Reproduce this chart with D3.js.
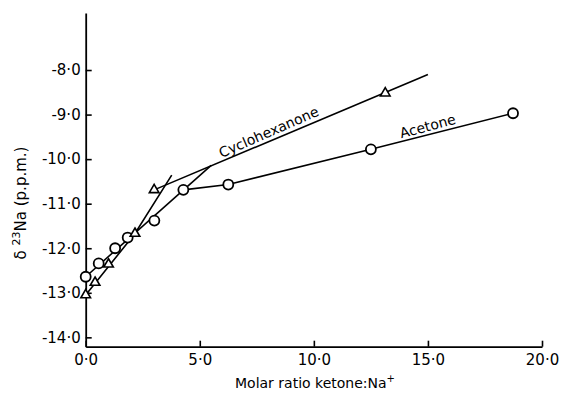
<!DOCTYPE html>
<html>
<head>
<meta charset="utf-8">
<script src="https://cdn.jsdelivr.net/npm/d3@7"></script>
<style>
  body { margin: 0; background: #fff; }
  svg { display: block; font-family: "DejaVu Sans", sans-serif; }
</style>
</head>
<body>
<script>
//------------ DATA ----------------------
// acetone (circles)
const acetoneX = [0, 0.57, 1.29, 1.84, 3.01, 4.28, 6.25, 12.5, 18.73];
const acetoneY = [-12.64, -12.34, -12.0, -11.76, -11.38, -10.69, -10.57, -9.78, -8.97];

// cyclohexanone (triangles)
const cycloX = [0, 0.41, 1.0, 2.16, 3.0, 13.13];
const cycloY = [-13.05, -12.77, -12.36, -11.67, -10.69, -8.52];

// hand drawn fit lines
const acetoneFitA = [[0, -12.64], [5.5, -10.14]];
const acetoneFitB = [[4.28, -10.69], [6.25, -10.57], [12.5, -9.78], [18.73, -8.97]];
const cycloFitA = [[0, -13.05], [2.16, -11.67], [3.77, -10.36]];
const cycloFitB = [[3.0, -10.69], [15.0, -8.1]];

const xTicks = [0, 5, 10, 15, 20];
const yTicks = [-14, -13, -12, -11, -10, -9, -8];
//----------------------------------------

const width = 565,
    height = 393;
const margin = {top: 13, right: 23, bottom: 46.3, left: 85.7};

var svg = d3.select("body").append("svg")
    .attr("width", width)
    .attr("height", height);

var x = d3.scaleLinear()
    .domain([0, 20])
    .range([margin.left, width - margin.right]);

var y = d3.scaleLinear()
    .domain([-14.21, -6.72])
    .range([height - margin.bottom, margin.top]);

// labels like "-8·0" with a plain hyphen and a raised dot
const fmt = d => d3.format(".1f")(d).replace("\u2212", "-").replace(".", "·");

//------------ AXES ----------------------
var gx = svg.append("g")
    .attr("transform", `translate(0,${height - margin.bottom})`)
    .call(d3.axisBottom(x).tickValues(xTicks).tickFormat(fmt)
        .tickSize(-6).tickSizeOuter(0).tickPadding(8));

var gy = svg.append("g")
    .attr("transform", `translate(${margin.left},0)`)
    .call(d3.axisLeft(y).tickValues(yTicks).tickFormat(fmt)
        .tickSize(-6).tickSizeOuter(0).tickPadding(5));

[gx, gy].forEach(g => {
  g.select(".domain").attr("stroke-width", 1.8);
  g.selectAll(".tick line").attr("stroke-width", 1.6);
  g.selectAll(".tick text")
    .attr("font-size", 15)
    .attr("font-family", "DejaVu Sans")
    .attr("fill", "#000");
});

// x title
var xt = svg.append("text")
    .attr("x", 315)
    .attr("y", 388)
    .attr("text-anchor", "middle")
    .attr("font-size", 14);
xt.append("tspan").text("Molar ratio ketone:Na");
xt.append("tspan").attr("dy", -6).attr("font-size", 10).text("+");

// y title
var yt = svg.append("text")
    .attr("transform", "translate(26,203) rotate(-90)")
    .attr("text-anchor", "middle")
    .attr("font-size", 15);
yt.append("tspan").text("δ ");
yt.append("tspan").attr("dy", -6).attr("font-size", 11).text("23");
yt.append("tspan").attr("dy", 6).text("Na (p.p.m.)");

//------------ LINES ----------------------
var line = d3.line()
    .x(d => x(d[0]))
    .y(d => y(d[1]));

[acetoneFitA, acetoneFitB, cycloFitA, cycloFitB].forEach(pts => {
  svg.append("path")
    .attr("d", line(pts))
    .attr("fill", "none")
    .attr("stroke", "#000")
    .attr("stroke-width", 1.6);
});

//------------ MARKERS ----------------------
svg.append("g").selectAll("circle")
    .data(d3.zip(acetoneX, acetoneY))
    .join("circle")
    .attr("cx", d => x(d[0]))
    .attr("cy", d => y(d[1]))
    .attr("r", 5)
    .attr("fill", "#fff")
    .attr("stroke", "#000")
    .attr("stroke-width", 1.8);

var tri = d3.symbol().type(d3.symbolTriangle).size(40);
svg.append("g").selectAll("path")
    .data(d3.zip(cycloX, cycloY))
    .join("path")
    .attr("d", tri)
    .attr("transform", d => `translate(${x(d[0])},${y(d[1])})`)
    .attr("fill", "#fff")
    .attr("stroke", "#000")
    .attr("stroke-width", 1.6);

//------------ LABELS ----------------------
svg.append("text")
    .attr("transform", `translate(${x(8.04)},${y(-9.41)}) rotate(-23.5)`)
    .attr("text-anchor", "middle")
    .attr("dominant-baseline", "middle")
    .attr("font-size", 14)
    .text("Cyclohexanone");

svg.append("text")
    .attr("transform", `translate(${x(15.0)},${y(-9.28)}) rotate(-15)`)
    .attr("text-anchor", "middle")
    .attr("dominant-baseline", "middle")
    .attr("font-size", 14)
    .text("Acetone");
</script>
</body>
</html>
